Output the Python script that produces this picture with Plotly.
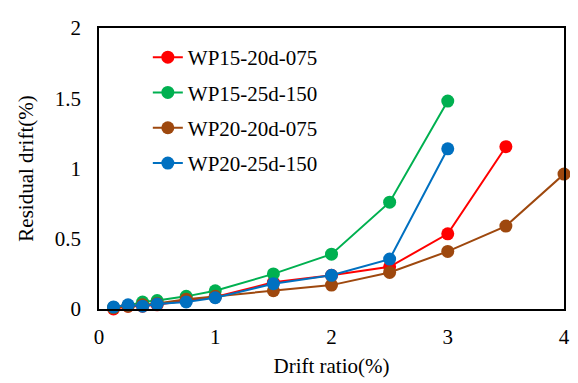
import plotly.graph_objects as go

drift = [0.125, 0.25, 0.375, 0.5, 0.75, 1, 1.5, 2, 2.5, 3, 3.5, 4]

names = ["WP15-20d-075", "WP15-25d-150", "WP20-20d-075", "WP20-25d-150"]
colors = ["#FF0000", "#00B050", "#9E480E", "#0070C0"]

wp15_20d_075 = [0.0, 0.02, 0.02, 0.03, 0.06, 0.085, 0.19, 0.24, 0.30, 0.535, 1.155]
wp15_25d_150 = [0.01, 0.025, 0.05, 0.06, 0.09, 0.13, 0.25, 0.39, 0.76, 1.48]
wp20_20d_075 = [0.01, 0.02, 0.03, 0.04, 0.07, 0.09, 0.13, 0.17, 0.26, 0.41, 0.59, 0.96]
wp20_25d_150 = [0.015, 0.03, 0.02, 0.035, 0.05, 0.08, 0.18, 0.24, 0.355, 1.14]

series = [wp15_20d_075, wp15_25d_150, wp20_20d_075, wp20_25d_150]

fig = go.Figure()
for name, color, ys in zip(names, colors, series):
    fig.add_trace(go.Scatter(
        x=drift[:len(ys)], y=ys, name=name, mode="lines+markers",
        legendgroup=name,
        line=dict(color=color, width=2),
        marker=dict(color=color, size=13),
        cliponaxis=False,
    ))

font = "Times New Roman, Liberation Serif, DejaVu Serif, serif"
fig.update_layout(
    width=570, height=375,
    margin=dict(l=91, r=8, t=12, b=74),
    paper_bgcolor="white", plot_bgcolor="white",
    font=dict(family=font, size=20, color="black"),
    showlegend=True,
    legend=dict(x=0.105, y=0.968, xanchor="left", yanchor="top",
                font=dict(family=font, size=21, color="black"),
                tracegroupgap=5,
                bgcolor="rgba(0,0,0,0)"),
    xaxis=dict(range=[0, 4], tickvals=[0, 1, 2, 3, 4], showgrid=False, zeroline=False,
               showline=True, linecolor="black", linewidth=1.5, mirror=True,
               ticks="", ticklabelstandoff=8, tickfont=dict(family=font, size=21),
               title=dict(text="Drift ratio(%)", standoff=10, font=dict(family=font, size=21))),
    yaxis=dict(range=[0, 2], tickvals=[0, 0.5, 1, 1.5, 2], showgrid=False, zeroline=False,
               showline=True, linecolor="black", linewidth=1.5, mirror=True,
               ticks="", ticklabelstandoff=12, tickfont=dict(family=font, size=21),
               title=dict(text="Residual drift(%)", standoff=15, font=dict(family=font, size=21))),
)

fig.write_html("out.html")
